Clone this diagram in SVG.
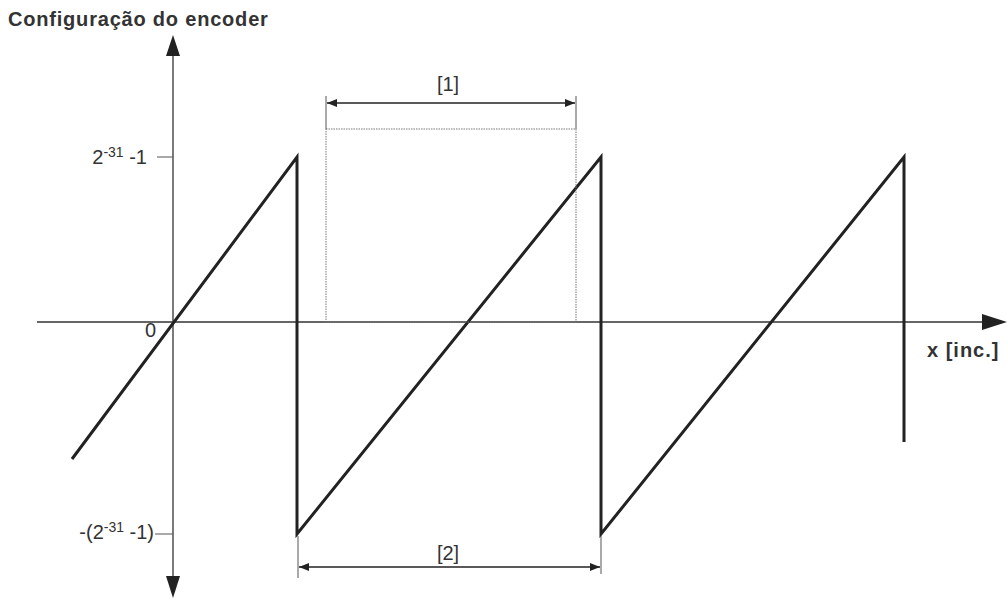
<svg xmlns="http://www.w3.org/2000/svg" width="1008" height="601" viewBox="0 0 1008 601">
<defs>
<style>
.ax{stroke:#333;stroke-width:1.3;fill:none}
.saw{stroke:#222;stroke-width:3;fill:none;stroke-linejoin:miter}
.thin{stroke:#555;stroke-width:1;fill:none}
.dot{stroke:#777;stroke-width:1;fill:none;stroke-dasharray:1.5 1}
.dim{stroke:#222;stroke-width:1.3;fill:none}
text{font-family:"Liberation Sans",Arial,sans-serif;fill:#333}
.lbl{font-size:20px}
.sup{font-size:14px}
.b{font-weight:bold;font-size:20px}
</style>
<marker id="ah" viewBox="0 0 10 10" refX="10" refY="5" markerWidth="12" markerHeight="10" markerUnits="userSpaceOnUse" orient="auto-start-reverse"><path d="M0,1 L10,5 L0,9 Z" fill="#222"/></marker>
</defs>
<g id="connectors">
<line class="ax" x1="37" y1="322" x2="982" y2="322"/>
<path d="M982,314 L1007,322 L982,330 Z" fill="#222"/>
<line class="ax" x1="173" y1="54" x2="173" y2="578"/>
<path d="M166,56 L173,35 L180,56 Z" fill="#222"/>
<path d="M166,576 L173,598 L180,576 Z" fill="#222"/>
<line class="thin" x1="157" y1="157" x2="173" y2="157"/>
<line class="thin" x1="155" y1="534" x2="173" y2="534"/>
<polyline class="saw" points="72,459 297,157 297,534 601,157 601,534 904,157 904,442"/>
<rect class="dot" x="326" y="129" width="250" height="193"/>
<line class="thin" x1="326" y1="96" x2="326" y2="129"/>
<line class="thin" x1="576" y1="96" x2="576" y2="129"/>
<line class="dim" x1="327" y1="103" x2="575" y2="103" marker-start="url(#ah)" marker-end="url(#ah)"/>
<line class="thin" x1="298" y1="536" x2="298" y2="578"/>
<line class="thin" x1="601" y1="536" x2="601" y2="574"/>
<line class="dim" x1="299" y1="567" x2="600" y2="567" marker-start="url(#ah)" marker-end="url(#ah)"/>
</g>
<g id="title"><text class="b" x="8" y="26" letter-spacing="0.8">Configuração do encoder</text></g>
<g id="xlabel"><text class="b" x="927" y="357" letter-spacing="1">x [inc.]</text></g>
<g id="ymax"><text class="lbl" x="147" y="164" text-anchor="end">2<tspan class="sup" dy="-7">-31</tspan><tspan dy="7"> -1</tspan></text></g>
<g id="zero"><text class="lbl" x="145" y="337">0</text></g>
<g id="ymin"><text class="lbl" x="154" y="539" text-anchor="end">-(2<tspan class="sup" dy="-7">-31</tspan><tspan dy="7"> -1)</tspan></text></g>
<g id="dim1"><text class="lbl" x="448" y="91" text-anchor="middle">[1]</text></g>
<g id="dim2"><text class="lbl" x="448" y="560" text-anchor="middle">[2]</text></g>
</svg>
